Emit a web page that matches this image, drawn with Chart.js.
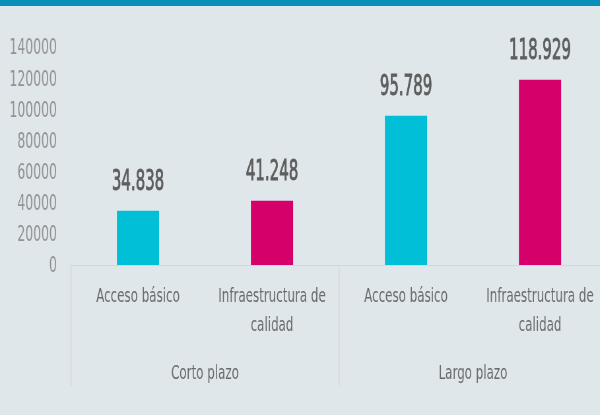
<!DOCTYPE html>
<html>
<head>
<meta charset="utf-8">
<script src="https://cdn.jsdelivr.net/npm/chart.js@4.4.1/dist/chart.umd.min.js"></script>
<style>
  html, body { margin: 0; padding: 0; background: #e0e7ea; overflow: hidden; }
  #wrap { position: relative; width: 600px; height: 415px; overflow: hidden; }
  #topbar { position: absolute; left: 0; top: 0; width: 600px; height: 6px; background: #0a8fbb; }
  #grafico { position: absolute; left: 0; top: 0; transform-origin: 0 0; }
</style>
</head>
<body>
<div id="wrap">
  <canvas id="grafico" height="415"></canvas>
  <div id="topbar"></div>
</div>
<script>
var categorias = [['Acceso básico'], ['Infraestructura de', 'calidad'], ['Acceso básico'], ['Infraestructura de', 'calidad']];
var grupos = ['Corto plazo', 'Largo plazo'];
var valores = [34838, 41248, 95789, 118929];
var colores = ['#00bfd6', '#d6006b', '#00bfd6', '#d6006b'];
var ticksY = [0, 20000, 40000, 60000, 80000, 100000, 120000, 140000];

// el lienzo se dibuja mas ancho y se comprime en horizontal: letra condensada como en el original
var K = 0.66;
var ANCHO = Math.ceil(608 / K);
var FUENTE = '"Liberation Sans Narrow", "DejaVu Sans Condensed", "Liberation Sans", sans-serif';
Chart.defaults.font.family = FUENTE;

var lienzo = document.getElementById('grafico');
lienzo.width = ANCHO;
lienzo.style.transform = 'scaleX(' + K + ')';

function miles(v) {
    return String(v).replace(/\B(?=(\d{3})+(?!\d))/g, '.');
}

var lineas = {
    id: 'lineas',
    afterDraw: function (chart) {
        var ctx = chart.ctx, a = chart.chartArea;
        var x = chart.scales.x, x2 = chart.scales.x2;
        var medio = (x.getPixelForValue(1) + x.getPixelForValue(2)) / 2;
        ctx.save();
        ctx.strokeStyle = '#d2d7da';
        ctx.lineWidth = 1;
        ctx.beginPath();
        ctx.moveTo(a.left, a.bottom + 0.5);
        ctx.lineTo(a.right, a.bottom + 0.5);
        ctx.stroke();
        ctx.lineWidth = 1 / K;
        ctx.beginPath();
        [a.left, medio, a.right].forEach(function (px) {
            ctx.moveTo(px, a.bottom);
            ctx.lineTo(px, x2.bottom);
        });
        ctx.stroke();
        ctx.restore();
    }
};

var etiquetas = {
    id: 'etiquetas',
    afterDatasetsDraw: function (chart) {
        var ctx = chart.ctx;
        var meta = chart.getDatasetMeta(0);
        ctx.save();
        ctx.font = '29px ' + FUENTE;
        ctx.fillStyle = '#5e5e5e';
        ctx.strokeStyle = '#5e5e5e';
        ctx.lineWidth = 0.9;
        ctx.textAlign = 'center';
        ctx.textBaseline = 'middle';
        meta.data.forEach(function (bar, i) {
            ctx.save();
            ctx.translate(bar.x, bar.y - 28);
            ctx.scale(0.87, 1);
            ctx.fillText(miles(valores[i]), 0, 0);
            ctx.strokeText(miles(valores[i]), 0, 0);
            ctx.restore();
        });
        ctx.restore();
    }
};

var ctx = lienzo.getContext('2d');
var myChart = new Chart(ctx, {
    type: 'bar',
    data: {
        labels: categorias,
        datasets: [{
            data: valores,
            backgroundColor: colores,
            borderWidth: 0,
            categoryPercentage: 1,
            barPercentage: 0.315
        }]
    },
    options: {
        responsive: false,
        animation: false,
        devicePixelRatio: 1,
        layout: { padding: { top: 47, right: ANCHO - 607 / K, bottom: 29, left: 0 } },
        plugins: {
            legend: { display: false },
            tooltip: { enabled: false }
        },
        scales: {
            y: {
                min: 0,
                max: 140000,
                afterBuildTicks: function (s) {
                    s.ticks = ticksY.map(function (v) { return { value: v }; });
                },
                afterFit: function (s) { s.width = 71 / K; },
                grid: { display: false, drawTicks: false },
                border: { display: false },
                ticks: {
                    padding: 14 / K,
                    labelOffset: 2,
                    color: '#939393',
                    font: { size: 21 },
                    callback: function (v) { return String(v); }
                }
            },
            x: {
                weight: 0,
                afterFit: function (s) { s.height = 75; },
                grid: { display: false, drawTicks: false },
                border: { display: false },
                ticks: {
                    padding: 17.5,
                    color: '#6a6a6a',
                    maxRotation: 0,
                    autoSkip: false,
                    font: { size: 20, lineHeight: 1.45 }
                }
            },
            x2: {
                type: 'category',
                labels: grupos,
                position: 'bottom',
                offset: true,
                weight: 1,
                afterFit: function (s) { s.height = 46; },
                grid: { display: false, drawTicks: false },
                border: { display: false },
                ticks: {
                    padding: 22,
                    color: '#6a6a6a',
                    maxRotation: 0,
                    font: { size: 20, lineHeight: 1.2 }
                }
            }
        }
    },
    plugins: [lineas, etiquetas]
});
</script>
</body>
</html>
